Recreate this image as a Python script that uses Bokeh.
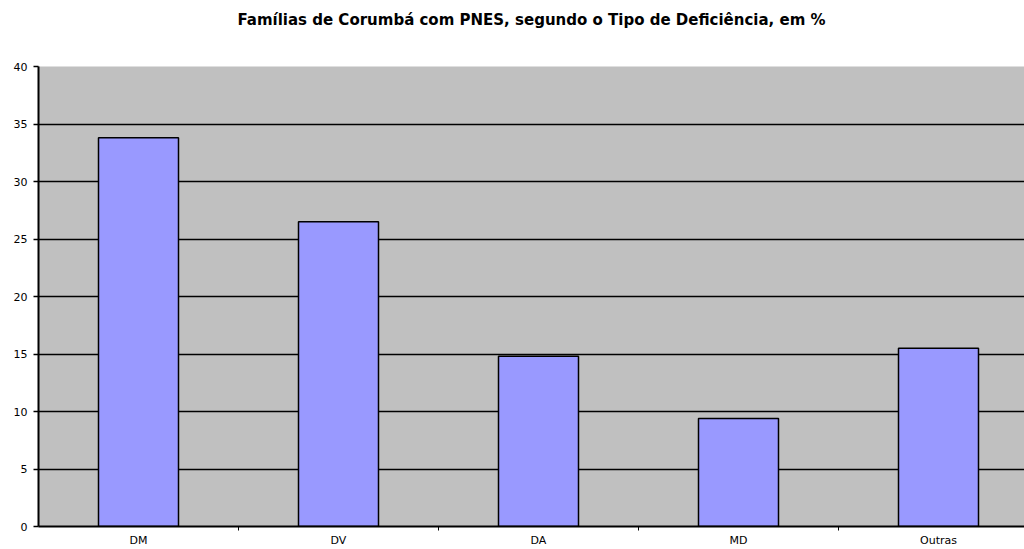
from bokeh.plotting import figure
from bokeh.models import Range1d, FixedTicker, LinearAxis
from bokeh.embed import file_html
from bokeh.resources import INLINE

title_text = "Famílias de Corumbá com PNES, segundo o Tipo de Deficiência, em %"
categories = ["DM", "DV", "DA", "MD", "Outras"]
values = [33.8, 26.5, 14.8, 9.4, 15.5]
y_ticks = [0, 5, 10, 15, 20, 25, 30, 35, 40]

xs = [i + 0.5 for i in range(len(categories))]

p = figure(width=1024, height=549, output_backend="svg", toolbar_location=None,
           x_range=Range1d(0, 4.93), y_range=Range1d(0, 40),
           min_border_left=38, min_border_right=0, min_border_top=66, min_border_bottom=23)
p.background_fill_color = "#C0C0C0"
p.border_fill_color = "white"
p.outline_line_color = None

# title drawn as the label of an invisible axis above the frame
top_axis = LinearAxis(ticker=FixedTicker(ticks=[]), axis_label=title_text,
                      axis_line_color=None, major_tick_line_color=None,
                      minor_tick_line_color=None, major_label_text_font_size="0px",
                      axis_label_standoff=38, axis_label_text_font="DejaVu Sans",
                      axis_label_text_font_size="15px", axis_label_text_font_style="bold",
                      axis_label_text_color="black")
p.add_layout(top_axis, "above")

p.vbar(x=xs, top=values, width=0.4, bottom=0, fill_color="#9999FF",
       line_color="black", line_width=1.5)

p.xgrid.grid_line_color = None
p.ygrid.grid_line_color = "black"
p.ygrid.grid_line_width = 1.5
p.ygrid.ticker = FixedTicker(ticks=y_ticks)

p.yaxis.ticker = FixedTicker(ticks=y_ticks)
p.yaxis.axis_line_color = "black"
p.yaxis.axis_line_width = 2
p.yaxis.major_tick_out = 5
p.yaxis.major_tick_in = 0
p.yaxis.major_tick_line_width = 1.5
p.yaxis.minor_tick_line_color = None
p.yaxis.major_label_text_font = "DejaVu Sans"
p.yaxis.major_label_text_font_size = "11px"
p.yaxis.major_label_standoff = 6
p.yaxis.major_label_text_color = "black"

xa = p.below[0]
xa.ticker = FixedTicker(ticks=xs, minor_ticks=[1, 2, 3, 4])
xa.major_label_overrides = {x: c for x, c in zip(xs, categories)}
xa.axis_line_color = "black"
xa.axis_line_width = 2
xa.major_tick_out = 0
xa.major_tick_in = 0
xa.minor_tick_out = 4
xa.minor_tick_in = 0
xa.minor_tick_line_color = "black"
xa.major_label_text_font = "DejaVu Sans"
xa.major_label_text_font_size = "11px"
xa.major_label_standoff = 3
xa.major_label_text_color = "black"

open("out.html", "w").write(file_html(p, INLINE))
